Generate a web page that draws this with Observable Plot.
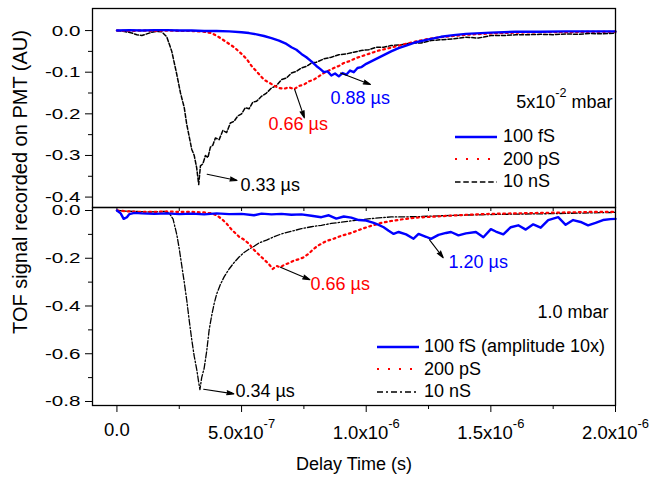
<!DOCTYPE html>
<html><head><meta charset="utf-8">
<script src="https://cdn.jsdelivr.net/npm/d3@7"></script>
<script src="https://cdn.jsdelivr.net/npm/@observablehq/plot@0.6"></script>
<style>
body{margin:0;background:#fff;font-family:"Liberation Sans",Arial,sans-serif;}
#chart{position:relative;width:651px;height:477px;overflow:hidden;background:#fff}
#chart > svg{position:absolute;left:0;top:0;overflow:visible;background:transparent}
.leg{position:absolute;display:flex;align-items:center;height:22px;font-size:18px;white-space:nowrap;color:#000}
.leg svg{display:block}
.ytitle{position:absolute;left:-180px;top:170px;width:400px;height:24px;line-height:24px;text-align:center;font-size:20px;white-space:nowrap;transform:rotate(-90deg);transform-origin:50% 50%;color:#000}
</style></head><body><div id="chart"></div>
<script>
// ---------- axis ticks / labels ----------
const xTickValues = [0, 0.5, 1.0, 1.5, 2.0];               // µs
const xTickLabels = ["0.0", "5.0x10^{-7}", "1.0x10^{-6}", "1.5x10^{-6}", "2.0x10^{-6}"];
const xMinorTicks = [0.25, 0.75, 1.25, 1.75];
const xAllTicks = [0, 0.25, 0.5, 0.75, 1.0, 1.25, 1.5, 1.75, 2.0];
const topYTicks = [0, -0.1, -0.2, -0.3, -0.4];
const topYLabels = ["0.0", "-0.1", "-0.2", "-0.3", "-0.4"];
const topYMinor = [-0.05, -0.15, -0.25, -0.35];
const botYTicks = [0, -0.2, -0.4, -0.6, -0.8];
const botYLabels = ["0.0", "-0.2", "-0.4", "-0.6", "-0.8"];
const botYMinor = [-0.1, -0.3, -0.5, -0.7];
const xTitle = "Delay Time (s)";
const yTitle = "TOF signal recorded on PMT (AU)";
const topPressure = "5x10^{-2} mbar";
const botPressure = "1.0 mbar";
const topSeriesNames = ["100 fS", "200 pS", "10 nS"];
const botSeriesNames = ["100 fS (amplitude 10x)", "200 pS", "10 nS"];

// ---------- top panel (5x10^-2 mbar): [time µs, signal] ----------
const top100fS = [[0,0],[0.05,0.001],[0.1,0],[0.15,0.001],[0.2,0.001],[0.25,0],[0.3,0],[0.35,-0.001],[0.4,-0.001],[0.45,-0.002],
 [0.5,-0.004],[0.53,-0.006],[0.56,-0.009],[0.59,-0.013],[0.62,-0.018],[0.65,-0.024],[0.68,-0.032],[0.7,-0.04],[0.72,-0.046],[0.74,-0.056],
 [0.76,-0.064],[0.78,-0.074],[0.8,-0.085],[0.815,-0.092],[0.83,-0.1],[0.845,-0.098],[0.86,-0.108],[0.875,-0.103],[0.89,-0.11],[0.905,-0.102],
 [0.92,-0.106],[0.935,-0.096],[0.95,-0.1],[0.965,-0.09],[0.98,-0.088],[1.0,-0.08],[1.02,-0.074],[1.04,-0.068],[1.06,-0.062],[1.08,-0.056],
 [1.1,-0.05],[1.13,-0.042],[1.16,-0.036],[1.2,-0.028],[1.25,-0.021],[1.3,-0.015],[1.35,-0.011],[1.4,-0.008],[1.5,-0.005],[1.6,-0.003],
 [1.7,-0.003],[1.8,-0.002],[1.9,-0.002],[2.0,-0.002]];
const top200pS = [[0,0],[0.05,-0.001],[0.1,0],[0.15,-0.001],[0.2,0],[0.25,-0.001],[0.3,-0.001],[0.35,-0.003],[0.38,-0.006],[0.41,-0.016],
 [0.44,-0.028],[0.47,-0.04],[0.5,-0.056],[0.52,-0.068],[0.54,-0.085],[0.56,-0.098],[0.575,-0.108],[0.59,-0.118],[0.61,-0.125],[0.63,-0.132],
 [0.65,-0.138],[0.67,-0.14],[0.69,-0.136],[0.71,-0.141],[0.73,-0.133],[0.75,-0.13],[0.77,-0.122],[0.79,-0.118],[0.81,-0.11],[0.83,-0.102],
 [0.85,-0.096],[0.87,-0.09],[0.89,-0.085],[0.91,-0.078],[0.93,-0.074],[0.96,-0.066],[0.99,-0.06],[1.02,-0.054],[1.05,-0.048],[1.08,-0.044],
 [1.12,-0.038],[1.16,-0.032],[1.2,-0.026],[1.25,-0.02],[1.3,-0.016],[1.35,-0.013],[1.4,-0.01],[1.5,-0.007],[1.6,-0.005],[1.7,-0.004],
 [1.8,-0.004],[1.9,-0.003],[2.0,-0.003]];
const top10nS = [[0,0],[0.03,-0.002],[0.06,-0.006],[0.08,-0.01],[0.1,-0.012],[0.12,-0.008],[0.14,-0.004],[0.16,-0.002],[0.18,-0.003],[0.2,-0.015],
 [0.22,-0.05],[0.24,-0.105],[0.255,-0.15],[0.27,-0.185],[0.28,-0.225],[0.29,-0.255],[0.3,-0.285],[0.31,-0.3],[0.32,-0.33],[0.328,-0.37],
 [0.335,-0.325],[0.345,-0.32],[0.355,-0.3],[0.365,-0.305],[0.375,-0.28],[0.385,-0.275],[0.395,-0.258],[0.41,-0.262],[0.425,-0.24],[0.44,-0.245],
 [0.455,-0.222],[0.47,-0.218],[0.485,-0.205],[0.5,-0.2],[0.515,-0.185],[0.53,-0.188],[0.545,-0.172],[0.56,-0.17],[0.58,-0.158],[0.6,-0.15],
 [0.62,-0.138],[0.64,-0.132],[0.66,-0.118],[0.68,-0.114],[0.7,-0.102],[0.72,-0.098],[0.74,-0.09],[0.76,-0.086],[0.78,-0.078],[0.8,-0.076],
 [0.83,-0.068],[0.86,-0.064],[0.89,-0.058],[0.92,-0.056],[0.95,-0.052],[0.98,-0.048],[1.01,-0.046],[1.04,-0.04],[1.07,-0.04],[1.1,-0.036],
 [1.14,-0.034],[1.18,-0.03],[1.22,-0.03],[1.26,-0.024],[1.3,-0.022],[1.35,-0.02],[1.4,-0.016],[1.45,-0.018],[1.5,-0.012],[1.55,-0.012],
 [1.6,-0.01],[1.65,-0.01],[1.7,-0.009],[1.75,-0.01],[1.8,-0.008],[1.85,-0.009],[1.9,-0.007],[1.95,-0.008],[2.0,-0.006]];

// ---------- bottom panel (1.0 mbar) ----------
const bot100fS = [[0,0],[0.015,-0.012],[0.027,-0.035],[0.04,-0.028],[0.05,-0.015],[0.07,-0.01],[0.1,-0.012],[0.15,-0.014],[0.2,-0.012],[0.25,-0.015],
 [0.3,-0.013],[0.35,-0.016],[0.4,-0.012],[0.45,-0.015],[0.5,-0.014],[0.55,-0.02],[0.58,-0.013],[0.62,-0.016],[0.66,-0.014],[0.7,-0.018],
 [0.74,-0.016],[0.78,-0.022],[0.82,-0.028],[0.85,-0.02],[0.88,-0.034],[0.91,-0.025],[0.94,-0.03],[0.97,-0.04],[1.0,-0.042],[1.03,-0.052],
 [1.05,-0.06],[1.07,-0.07],[1.09,-0.085],[1.11,-0.098],[1.13,-0.09],[1.16,-0.1],[1.19,-0.118],[1.21,-0.098],[1.24,-0.11],[1.26,-0.119],
 [1.29,-0.102],[1.32,-0.094],[1.34,-0.09],[1.37,-0.104],[1.4,-0.096],[1.44,-0.09],[1.47,-0.112],[1.5,-0.078],[1.52,-0.088],[1.55,-0.1],
 [1.58,-0.07],[1.61,-0.062],[1.64,-0.08],[1.67,-0.058],[1.7,-0.072],[1.73,-0.04],[1.77,-0.028],[1.8,-0.06],[1.83,-0.04],[1.86,-0.048],
 [1.89,-0.062],[1.92,-0.052],[1.95,-0.04],[1.98,-0.036],[2.0,-0.035]];
const bot200pS = [[0,0],[0.05,-0.004],[0.1,-0.006],[0.15,-0.006],[0.2,-0.004],[0.25,-0.006],[0.3,-0.006],[0.35,-0.008],[0.38,-0.012],[0.4,-0.02],
 [0.42,-0.035],[0.44,-0.055],[0.46,-0.08],[0.475,-0.095],[0.49,-0.11],[0.51,-0.122],[0.53,-0.14],[0.55,-0.165],[0.57,-0.185],[0.59,-0.205],
 [0.61,-0.225],[0.625,-0.245],[0.64,-0.232],[0.655,-0.238],[0.67,-0.228],[0.69,-0.22],[0.71,-0.21],[0.73,-0.204],[0.75,-0.196],[0.77,-0.18],
 [0.79,-0.16],[0.81,-0.145],[0.84,-0.128],[0.87,-0.118],[0.9,-0.106],[0.94,-0.094],[0.98,-0.078],[1.02,-0.064],[1.06,-0.052],[1.1,-0.044],
 [1.15,-0.036],[1.2,-0.03],[1.3,-0.024],[1.4,-0.018],[1.5,-0.014],[1.6,-0.012],[1.7,-0.01],[1.8,-0.008],[1.9,-0.006],[2.0,-0.006]];
const bot10nS = [[0,0],[0.04,-0.003],[0.08,-0.004],[0.12,-0.006],[0.16,-0.005],[0.19,-0.004],[0.21,-0.012],[0.225,-0.035],[0.24,-0.1],[0.25,-0.16],
 [0.26,-0.23],[0.27,-0.3],[0.28,-0.375],[0.29,-0.46],[0.3,-0.54],[0.31,-0.61],[0.32,-0.665],[0.328,-0.72],[0.333,-0.75],[0.34,-0.7],
 [0.35,-0.66],[0.36,-0.59],[0.37,-0.5],[0.38,-0.44],[0.39,-0.39],[0.4,-0.35],[0.415,-0.31],[0.43,-0.278],[0.45,-0.245],[0.47,-0.218],
 [0.49,-0.195],[0.51,-0.176],[0.53,-0.162],[0.55,-0.15],[0.57,-0.136],[0.6,-0.124],[0.63,-0.11],[0.66,-0.098],[0.7,-0.087],[0.74,-0.076],
 [0.78,-0.068],[0.82,-0.062],[0.86,-0.054],[0.9,-0.049],[0.95,-0.042],[1.0,-0.036],[1.05,-0.031],[1.1,-0.027],[1.2,-0.026],[1.3,-0.022],
 [1.4,-0.019],[1.5,-0.017],[1.6,-0.015],[1.7,-0.014],[1.8,-0.012],[1.9,-0.01],[2.0,-0.008]];

// ---------- peak annotations: label, arrow from (x1,y1) to (x2,y2), text at (tx,ty) ----------
const topNotes = [
  {label: "0.88 µs", color: "#0000ff", x1: 0.897, y1: -0.102, x2: 1.017, y2: -0.1295, tx: 0.857, ty: -0.162},
  {label: "0.66 µs", color: "#ff0000", x1: 0.713, y1: -0.1415, x2: 0.752, y2: -0.2096, tx: 0.608, ty: -0.2247},
  {label: "0.33 µs", color: "#000000", x1: 0.362, y1: -0.345, x2: 0.482, y2: -0.36, tx: 0.496, ty: -0.371}
];
const botNotes = [
  {label: "0.34 µs", color: "#000000", x1: 0.348, y1: -0.7485, x2: 0.469, y2: -0.768, tx: 0.4755, ty: -0.757},
  {label: "0.66 µs", color: "#ff0000", x1: 0.656, y1: -0.2375, x2: 0.774, y2: -0.29, tx: 0.7765, ty: -0.307},
  {label: "1.20 µs", color: "#0000ff", x1: 1.254, y1: -0.1227, x2: 1.309, y2: -0.198, tx: 1.33, ty: -0.2165}
];

// ---------- styles ----------
const FONT = "'Liberation Sans', Arial, sans-serif";
const topStyles = [
  {stroke: "#0000ff", strokeWidth: 2.4, dash: null},
  {stroke: "#ff0000", strokeWidth: 2.2, dash: "1.8,3.6"},
  {stroke: "#000000", strokeWidth: 1.5, dash: "4,2"}
];
const botStyles = [
  {stroke: "#0000ff", strokeWidth: 2.4, dash: null},
  {stroke: "#ff0000", strokeWidth: 2.2, dash: "1.8,3.6"},
  {stroke: "#000000", strokeWidth: 1.3, dash: "6,2,1.5,2"}
];
const legendDash = {top: [null, "2,9", "5.5,2.8"], bot: [null, "2,9", "6,3,2,3"]};

const toRows = (pairs) => pairs.map(([t, v]) => ({t, v}));
const common = {
  width: 651, height: 477, marginLeft: 92, marginRight: 36,
  style: {fontFamily: FONT, fontSize: "18px", overflow: "visible", background: "transparent", color: "#000"}
};
const xScale = {domain: [-0.098, 2.0], axis: null, label: null};
const Y_TICK_FONT = 15.5;

function lineMarks(series, styles) {
  return series.map((s, i) => Plot.line(toRows(s), {
    x: "t", y: "v", stroke: styles[i].stroke, strokeWidth: styles[i].strokeWidth,
    strokeDasharray: styles[i].dash ?? undefined, strokeLinejoin: "round"
  }));
}
function noteMarks(notes) {
  return [
    Plot.arrow(notes, {x1: "x1", y1: "y1", x2: "x2", y2: "y2", stroke: "#000", fill: "#000", strokeWidth: 1.1,
      headLength: 10, headAngle: 32, strokeLinejoin: "miter"}),
    Plot.text(notes, {x: "tx", y: "ty", text: "label", fill: "color", textAnchor: "start", fontSize: 18})
  ];
}

const topPlot = Plot.plot({
  ...common, marginTop: 8, marginBottom: 270,
  x: xScale,
  y: {domain: [-0.425, 0.053], axis: null, label: null},
  marks: [
    ...lineMarks([top100fS, top200pS, top10nS], topStyles).reverse(),
    Plot.frame({stroke: "#000", strokeWidth: 1.3}),
    Plot.axisY(topYTicks, {anchor: "left", tickSize: 7, tickPadding: 5, fontSize: Y_TICK_FONT, label: null,
      tickFormat: d => topYLabels[topYTicks.indexOf(d)]}),
    Plot.axisY(topYMinor, {anchor: "left", tickSize: 4, tickFormat: () => "", label: null}),
    Plot.axisX(xAllTicks, {anchor: "bottom", tickSize: 4, tickFormat: () => "", label: null}),
    ...noteMarks(topNotes),
    Plot.text([topPressure], {text: d => d, y: [-0.172], frameAnchor: "right", textAnchor: "end", dx: -3, fontSize: 18})
  ]
});

const botPlot = Plot.plot({
  ...common, marginTop: 207, marginBottom: 72,
  x: xScale,
  y: {domain: [-0.8168, 0.0126], axis: null, label: null},
  marks: [
    ...lineMarks([bot100fS, bot200pS, bot10nS], botStyles).reverse(),
    Plot.frame({stroke: "#000", strokeWidth: 1.3}),
    Plot.axisY(botYTicks, {anchor: "left", tickSize: 7, tickPadding: 5, fontSize: Y_TICK_FONT, label: null,
      tickFormat: d => botYLabels[botYTicks.indexOf(d)]}),
    Plot.axisY(botYMinor, {anchor: "left", tickSize: 4, tickFormat: () => "", label: null}),
    Plot.axisX(xTickValues, {anchor: "bottom", tickSize: 7, tickPadding: 10, fontSize: 18.5, label: null,
      tickFormat: d => xTickLabels[xTickValues.indexOf(d)]}),
    Plot.axisX(xMinorTicks, {anchor: "bottom", tickSize: 4, tickFormat: () => "", label: null}),
    ...noteMarks(botNotes),
    Plot.text([botPressure], {text: d => d, y: [-0.426], frameAnchor: "right", textAnchor: "end", dx: -7, fontSize: 18}),
    Plot.text([xTitle], {text: d => d, frameAnchor: "bottom", lineAnchor: "middle", dy: 59, fontSize: 18})
  ]
});

// superscripts: "a^{b}c" -> tspans ; widen y tick labels like the reference ; filled arrow heads
function finish(svg) {
  d3.select(svg).selectAll("text").each(function () {
    const s = this.textContent;
    const m = s.match(/^(.*?)\^\{(.*?)\}(.*)$/);
    if (!m) return;
    const isTick = (this.parentNode.getAttribute("aria-label") || "").includes("tick label");
    const sel = d3.select(this);
    sel.text(null);
    sel.append("tspan").attr("dy", isTick ? 3.5 : 0).text(m[1]);
    sel.append("tspan").attr("dy", -11).attr("font-size", "0.7em").text(m[2]);
    if (m[3]) sel.append("tspan").attr("dy", 11).text(m[3]);
  });
  d3.select(svg).selectAll("g[aria-label='y-axis tick label'] text").each(function () {
    const tr = this.getAttribute("transform") || "";
    this.setAttribute("transform", tr + " scale(1.33,1)");
  });
  d3.select(svg).selectAll("g[aria-label='arrow']").attr("fill", "#000");
}
finish(topPlot); finish(botPlot);

const chart = document.getElementById("chart");
chart.appendChild(topPlot);
chart.appendChild(botPlot);

// y title
const yt = document.createElement("div");
yt.className = "ytitle";
yt.textContent = yTitle;
chart.appendChild(yt);

// legends
function legend(names, styles, dashes, left, rowsY, gap) {
  names.forEach((name, i) => {
    const div = document.createElement("div");
    div.className = "leg";
    div.style.left = left + "px";
    div.style.top = (rowsY[i] - 11) + "px";
    const ns = "http://www.w3.org/2000/svg";
    const sv = document.createElementNS(ns, "svg");
    sv.setAttribute("width", 42); sv.setAttribute("height", 8);
    sv.style.marginRight = gap + "px";
    const ln = document.createElementNS(ns, "line");
    ln.setAttribute("x1", 0); ln.setAttribute("x2", 42); ln.setAttribute("y1", 4); ln.setAttribute("y2", 4);
    ln.setAttribute("stroke", styles[i].stroke);
    ln.setAttribute("stroke-width", i === 0 ? 2.4 : (i === 1 ? 2 : 1.6));
    if (dashes[i]) ln.setAttribute("stroke-dasharray", dashes[i]);
    sv.appendChild(ln);
    div.appendChild(sv);
    const sp = document.createElement("span");
    sp.textContent = name;
    div.appendChild(sp);
    chart.appendChild(div);
  });
}
legend(topSeriesNames, topStyles, legendDash.top, 455, [136.7, 159.3, 181.7], 6);
legend(botSeriesNames, botStyles, legendDash.bot, 377, [346.7, 369.3, 391.7], 5);
</script></body></html>
